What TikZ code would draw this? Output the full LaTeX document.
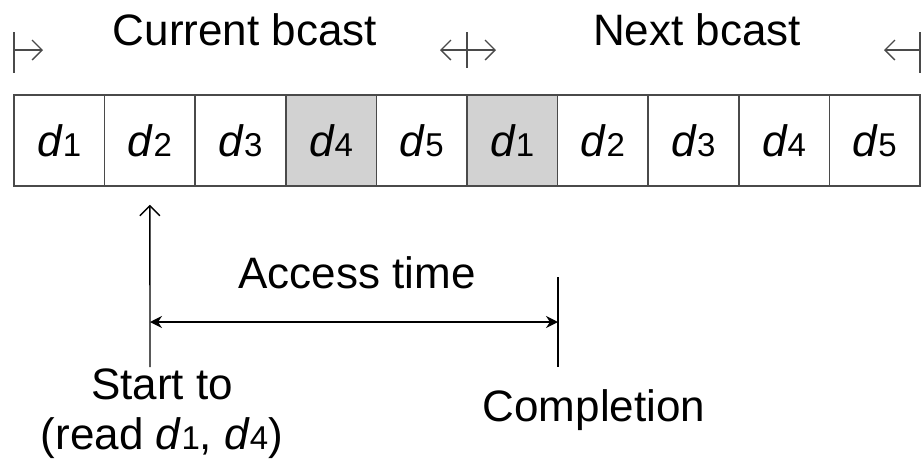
\documentclass[tikz,border=0pt]{standalone}
\usepackage{fontspec}
\setmainfont{Liberation Sans}
\usetikzlibrary{arrows.meta,positioning}
\definecolor{cellgray}{HTML}{D2D2D2}
\definecolor{rimgray}{HTML}{4A4A4A}
\newcommand{\dsub}[1]{\textit{d}{\fontsize{16.5}{18}\selectfont #1}}

\begin{document}
\begin{tikzpicture}[x=0.5pt,y=-0.5pt,
 cell/.style={draw=rimgray,line width=0.8pt,minimum width=45.3pt,
   minimum height=45.5pt,inner sep=0pt,font=\fontsize{22}{24}\selectfont},
 lbl/.style={font=\fontsize{22}{25}\selectfont,inner sep=0pt},
 barb/.style={-{Straight Barb[length=5pt,width=10pt]},line width=0.7pt},
 span/.style={{Stealth[length=6pt,width=6pt]}-{Stealth[length=6pt,width=6pt]},line width=0.7pt},
 tick/.style={line width=0.8pt,draw=rimgray}]
\useasboundingbox (0,0) rectangle (923,467);
% two broadcast cycles of five items, d4 and d1 shaded
\foreach \i/\k/\f in {1/1/white,2/2/white,3/3/white,4/4/cellgray,5/5/white,
                      6/1/cellgray,7/2/white,8/3/white,9/4/white,10/5/white}
  \node[cell,fill=\f] (c\i) at ({14+90.6*(\i-0.5)},140.5) {\dsub{\k}};

% cycle labels and boundary markers
\node[lbl] (cur) at (245,30) {Current bcast};
\node[lbl] (nxt) at (697,30) {Next bcast};
\coordinate (lmk) at (14,50);
\coordinate (mmk) at (467,50);
\coordinate (rmk) at (920,50);
\draw[tick] (14,32) -- (14,73);
\draw[tick] (467,32) -- (467,68);
\draw[tick] (920,32) -- (920,73);
\draw[barb,draw=rimgray] (lmk) -- ++(29,0);
\draw[barb,draw=rimgray] (mmk) -- ++(-27,0);
\draw[barb,draw=rimgray] (mmk) -- ++(29,0);
\draw[barb,draw=rimgray] (rmk) -- ++(-36,0);

% access time
\coordinate (startfoot) at (150,367);
\coordinate (donetop) at (558,277);
\coordinate (donefoot) at (558,367);
\coordinate (acc0) at (150,322);
\coordinate (acc1) at (558,322);
\draw[barb] (startfoot) -- ([yshift=-9pt]c2.south);
\draw[tick,draw=black] (donetop) -- (donefoot);
\draw[span] (acc0) -- (acc1);
\node[lbl] (acc) at (357,273) {Access time};
\node[lbl,align=center] (start) at (162,414) {Start to\\(read \dsub{1}, \dsub{4})};
\node[lbl] (done) at (594,410) {Completion};
\end{tikzpicture}
\end{document}
